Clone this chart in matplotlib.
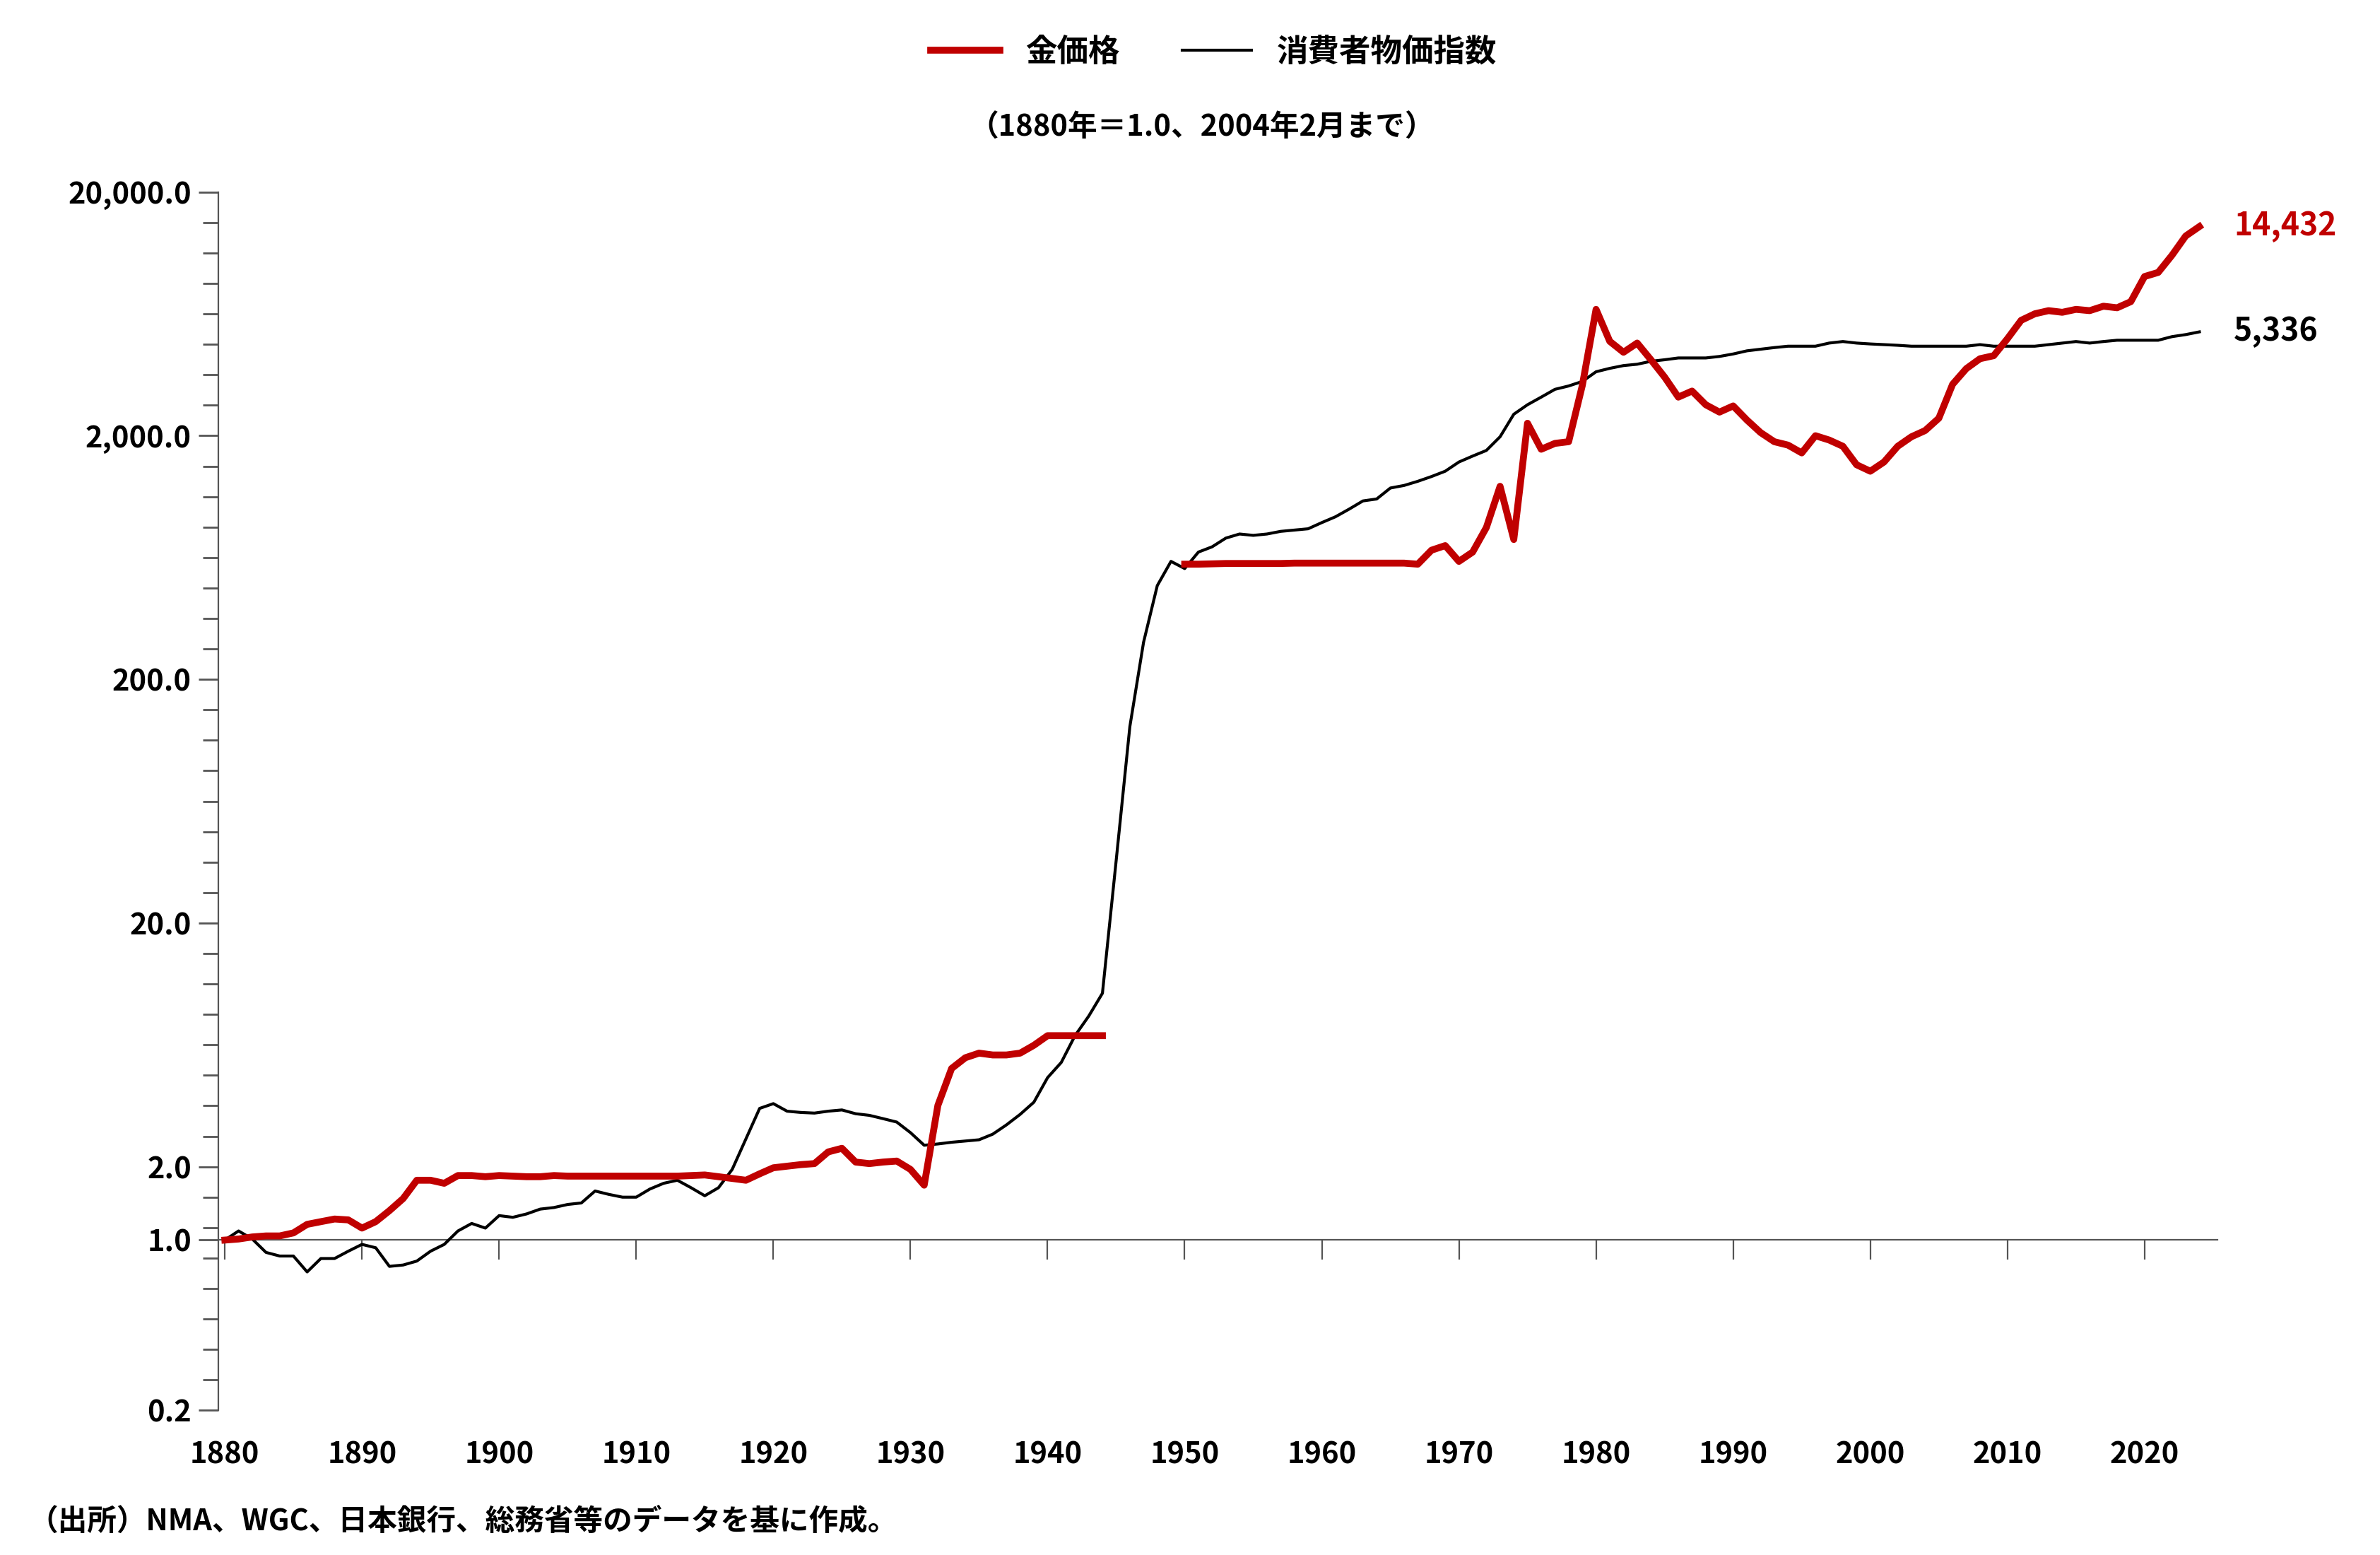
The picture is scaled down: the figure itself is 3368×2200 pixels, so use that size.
import matplotlib
matplotlib.use("Agg")
import matplotlib.pyplot as plt
from matplotlib.ticker import FixedLocator, FuncFormatter

plt.rcParams["font.family"] = "Noto Sans CJK JP"

gold_years_a = list(range(1880, 1945))
gold_a = [1.00, 1.01, 1.03, 1.04, 1.04, 1.07, 1.16, 1.19, 1.22, 1.21, 1.12, 1.19, 1.32, 1.48, 1.76,
          1.76, 1.71, 1.84, 1.84, 1.82, 1.84, 1.83, 1.82, 1.82, 1.84, 1.83, 1.83, 1.83, 1.83, 1.83,
          1.83, 1.83, 1.83, 1.83, 1.84, 1.85, 1.82, 1.79, 1.76, 1.87, 1.98, 2.01, 2.04, 2.06, 2.30,
          2.38, 2.09, 2.06, 2.09, 2.11, 1.95, 1.68, 3.57, 5.06, 5.60, 5.85, 5.75, 5.75, 5.85, 6.30,
          6.90, 6.90, 6.90, 6.90, 6.90]
gold_years_b = list(range(1950, 2025))
gold_b = [594, 594, 596, 598, 598, 598, 598, 598, 600, 600, 600, 600, 600, 600, 600, 600, 600, 594,
          678, 708, 610, 666, 840, 1240, 750, 2250, 1760, 1860, 1890, 3220, 6600, 4880, 4400, 4800,
          4100, 3480, 2880, 3050, 2680, 2500, 2650, 2320, 2060, 1890, 1830, 1700, 2000, 1920, 1810,
          1520, 1430, 1560, 1810, 1980, 2100, 2360, 3250, 3770, 4140, 4260, 5000, 5950, 6330, 6520,
          6420, 6600, 6520, 6800, 6700, 7100, 9000, 9360, 11000, 13200, 14432]

cpi_years = list(range(1880, 2025))
cpi = [1.00, 1.09, 1.01, 0.89, 0.86, 0.86, 0.74, 0.84, 0.84, 0.90, 0.96, 0.93, 0.78, 0.79, 0.82,
       0.90, 0.96, 1.09, 1.17, 1.12, 1.26, 1.24, 1.28, 1.34, 1.36, 1.40, 1.42, 1.59, 1.54, 1.50,
       1.50, 1.62, 1.71, 1.76, 1.64, 1.52, 1.64, 1.95, 2.60, 3.47, 3.63, 3.38, 3.34, 3.32, 3.38,
       3.42, 3.30, 3.25, 3.15, 3.05, 2.76, 2.45, 2.48, 2.52, 2.55, 2.58, 2.72, 2.97, 3.28, 3.68,
       4.64, 5.36, 6.90, 8.30, 10.3, 36, 128, 284, 485, 610, 570, 666, 700, 760, 790, 780,
       790, 810, 820, 830, 880, 930, 1000, 1080, 1100, 1220, 1250, 1300, 1360, 1430, 1560, 1650,
       1740, 1980, 2450, 2680, 2880, 3100, 3200, 3340, 3660, 3780, 3880, 3930, 4040, 4100, 4170,
       4170, 4170, 4230, 4330, 4460, 4530, 4600, 4660, 4660, 4660, 4800, 4870, 4800, 4760, 4730,
       4700, 4660, 4660, 4660, 4660, 4660, 4730, 4660, 4660, 4660, 4660, 4730, 4800, 4870,
       4800, 4870, 4930, 4930, 4930, 4930, 5100, 5200, 5336]

major_ticks = [0.2, 1.0, 2.0, 20.0, 200.0, 2000.0, 20000.0]
x_ticks = list(range(1880, 2030, 10))

RED = "#c00000"

fig = plt.figure(figsize=(16.84, 11), dpi=200)
ax = fig.add_axes([0.0916, 0.093, 0.840, 0.7835])
ax.set_yscale("log")
ax.set_ylim(0.2, 20000)
ax.set_xlim(1879.5, 2025.3)

ax.plot(cpi_years, cpi, color="black", lw=1.5, label="消費者物価指数", zorder=3)
ax.plot(gold_years_a, gold_a, color=RED, lw=3.5, label="金価格", zorder=4)
ax.plot(gold_years_b, gold_b, color=RED, lw=3.5, zorder=4)

for s in ("top", "right"):
    ax.spines[s].set_visible(False)
ax.spines["bottom"].set_position(("data", 1.0))
ax.spines["bottom"].set_color("#555555")
ax.spines["left"].set_color("#555555")

ax.yaxis.set_major_locator(FixedLocator(major_ticks))
minor = [2 * 10 ** (k + i / 8) for k in range(-1, 4) for i in range(1, 8)]
ax.yaxis.set_minor_locator(FixedLocator(minor))
ax.yaxis.set_major_formatter(FuncFormatter(lambda v, p: f"{v:,.1f}"))
ax.yaxis.set_minor_formatter(FuncFormatter(lambda v, p: ""))
ax.tick_params(axis="y", which="both", direction="out", length=8, width=1, colors="#555555",
               labelcolor="black", labelsize=15)
ax.tick_params(axis="y", which="major", length=10)

ax.set_xticks(x_ticks)
ax.tick_params(axis="x", direction="out", length=10, colors="#555555", labelcolor="black",
               labelsize=15, pad=92)
for lab in ax.get_xticklabels() + ax.get_yticklabels():
    lab.set_fontweight("bold")

ax.text(2026.5, gold_b[-1], f"{gold_b[-1]:,}", color=RED, fontsize=16, fontweight="bold",
        va="center", ha="left")
ax.text(2026.5, cpi[-1], f"{cpi[-1]:,}", color="black", fontsize=16, fontweight="bold",
        va="center", ha="left")

handles, labels = ax.get_legend_handles_labels()
fig.legend(handles[::-1], labels[::-1], loc="upper center", bbox_to_anchor=(0.51, 0.995), ncol=2,
           frameon=False, prop={"size": 16, "weight": "bold"}, handlelength=2.2, columnspacing=2.0)
fig.text(0.505, 0.918, "（1880年＝1.0、2004年2月まで）", ha="center", va="center",
         fontsize=15, fontweight="bold")
fig.text(0.012, 0.012, "（出所）NMA、WGC、日本銀行、総務省等のデータを基に作成。",
         ha="left", va="bottom", fontsize=15, fontweight="bold")

fig.savefig("out.png", dpi=200)
